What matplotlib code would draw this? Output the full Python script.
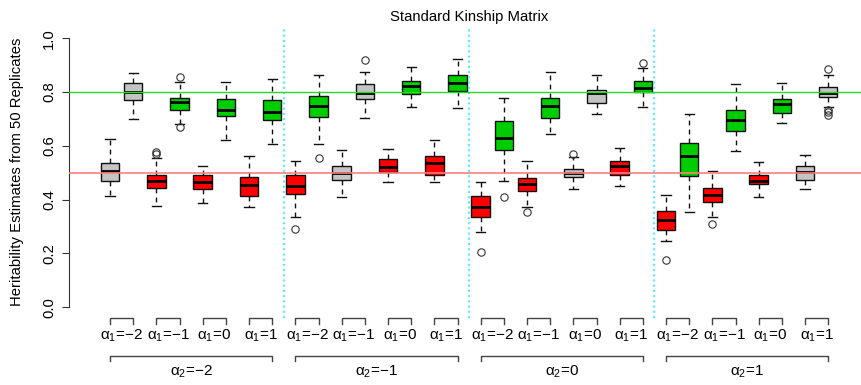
import matplotlib
matplotlib.use("Agg")
from matplotlib import pyplot as plt
from matplotlib.transforms import blended_transform_factory

plt.rcParams["font.family"] = ["Liberation Sans", "DejaVu Sans"]
plt.rcParams["mathtext.fontset"] = "custom"
plt.rcParams["mathtext.rm"] = "Liberation Sans"
plt.rcParams["mathtext.it"] = "Liberation Sans:italic"

alpha2_levels = [-2, -1, 0, 1]
alpha1_levels = [-2, -1, 0, 1]
true_h = [0.5, 0.8]

# one entry per box, ordered by alpha2, then alpha1, then true heritability (0.5, 0.8)
whislo = [0.414, 0.699, 0.378, 0.680, 0.389, 0.622, 0.374, 0.607,
          0.334, 0.607, 0.411, 0.704, 0.466, 0.745, 0.464, 0.742,
          0.280, 0.468, 0.372, 0.644, 0.440, 0.719, 0.449, 0.746,
          0.248, 0.354, 0.334, 0.582, 0.411, 0.684, 0.440, 0.743]
q1 = [0.470, 0.769, 0.443, 0.735, 0.440, 0.710, 0.413, 0.695,
      0.422, 0.706, 0.474, 0.775, 0.504, 0.794, 0.493, 0.804,
      0.334, 0.585, 0.433, 0.705, 0.485, 0.761, 0.491, 0.801,
      0.286, 0.489, 0.393, 0.657, 0.457, 0.723, 0.472, 0.782]
med = [0.507, 0.799, 0.471, 0.763, 0.466, 0.733, 0.456, 0.727,
       0.452, 0.748, 0.500, 0.795, 0.523, 0.823, 0.535, 0.833,
       0.374, 0.631, 0.459, 0.749, 0.500, 0.795, 0.524, 0.815,
       0.326, 0.561, 0.418, 0.697, 0.471, 0.757, 0.501, 0.795]
q3 = [0.535, 0.835, 0.491, 0.778, 0.491, 0.773, 0.484, 0.770,
      0.491, 0.785, 0.524, 0.829, 0.550, 0.840, 0.562, 0.865,
      0.413, 0.692, 0.481, 0.777, 0.515, 0.808, 0.543, 0.842,
      0.359, 0.612, 0.445, 0.733, 0.491, 0.773, 0.524, 0.818]
whishi = [0.627, 0.872, 0.553, 0.837, 0.526, 0.839, 0.562, 0.850,
          0.545, 0.864, 0.586, 0.875, 0.590, 0.892, 0.620, 0.924,
          0.466, 0.777, 0.545, 0.876, 0.557, 0.864, 0.591, 0.889,
          0.419, 0.719, 0.507, 0.831, 0.539, 0.833, 0.565, 0.865]
outliers = [[], [], [0.578, 0.568], [0.856, 0.669], [], [], [], [],
            [0.290], [0.553], [], [0.918], [], [], [], [],
            [0.206], [0.411], [0.354], [], [0.570], [], [], [0.907],
            [0.175], [], [0.309], [], [], [], [], [0.884, 0.733, 0.725, 0.716]]

fig = plt.figure(figsize=(8.62, 3.85), dpi=100)
W, H = 862.0, 385.0
ax = fig.add_axes([68.8 / W, (H - 318) / H, (W - 68.8) / W, 290.5 / H])

stats = []
colors = []
for i in range(len(med)):
    a2 = alpha2_levels[i // 8]
    a1 = alpha1_levels[(i // 2) % 4]
    stats.append(dict(whislo=whislo[i], q1=q1[i], med=med[i], q3=q3[i],
                      whishi=whishi[i], fliers=outliers[i]))
    if a1 == a2:
        colors.append("#c4c4c4")
    elif i % 2 == 0:
        colors.append("#ff0000")
    else:
        colors.append("#00cd00")

positions = list(range(1, len(med) + 1))
bp = ax.bxp(stats, positions=positions, widths=0.8, patch_artist=True,
            showfliers=True, capwidths=0.4,
            boxprops=dict(edgecolor="#111111", linewidth=1.0),
            medianprops=dict(color="black", linewidth=2.0),
            whiskerprops=dict(color="#111111", linewidth=1.0, linestyle=(0, (3.5, 3))),
            capprops=dict(color="#111111", linewidth=1.0),
            flierprops=dict(marker="o", markerfacecolor="none",
                            markeredgecolor="#333333", markersize=5.3,
                            markeredgewidth=0.8))
for patch, c in zip(bp["boxes"], colors):
    patch.set_facecolor(c)

ax.axhline(true_h[1], color="#22dd22", linewidth=1.0, zorder=5)
ax.axhline(true_h[0], color="#ff7f7f", linewidth=1.2, zorder=5)
for xv in [8.5, 16.5, 24.5]:
    ax.axvline(xv, color="#55eeff", linewidth=1.5, linestyle=(0, (1, 1.5)))

ax.set_xlim(-0.78, 33.46)
ax.set_ylim(-0.04, 1.04)
for s in ["top", "right", "bottom"]:
    ax.spines[s].set_visible(False)
ax.spines["left"].set_bounds(0, 1)
ax.spines["left"].set_color("#333333")
ax.set_xticks([])
ax.set_yticks([0.0, 0.2, 0.4, 0.6, 0.8, 1.0])
ax.set_yticklabels(["0.0", "0.2", "0.4", "0.6", "0.8", "1.0"],
                   rotation=90, va="center", fontsize=10.7)
ax.tick_params(axis="y", length=5, width=0.8, color="#333333", pad=4)

# group brackets below the plot
tr = blended_transform_factory(ax.transData, fig.transFigure)
def fy(p):
    return (H - p) / H

bcol = "#444444"
for b, a2 in enumerate(alpha2_levels):
    for g, a1 in enumerate(alpha1_levels):
        x0 = positions[b * 8 + g * 2]
        x1 = positions[b * 8 + g * 2 + 1]
        ax.plot([x0, x0, x1, x1], [fy(324), fy(318), fy(318), fy(324)],
                color=bcol, linewidth=1.0, transform=tr, clip_on=False)
        ax.text((x0 + x1) / 2, fy(336), "α$_1$=\u2212%d" % -a1 if a1 < 0 else "α$_1$=%d" % a1,
                transform=tr, ha="center", va="center", fontsize=11)
    x0 = positions[b * 8]
    x1 = positions[b * 8 + 7]
    ax.plot([x0, x0, x1, x1], [fy(361), fy(356), fy(356), fy(361)],
            color=bcol, linewidth=1.0, transform=tr, clip_on=False)
    ax.text((x0 + x1) / 2, fy(372), "α$_2$=\u2212%d" % -a2 if a2 < 0 else "α$_2$=%d" % a2,
            transform=tr, ha="center", va="center", fontsize=11)

fig.text(469 / W, fy(17), "Standard Kinship Matrix", ha="center", va="center",
         fontsize=10.7)
fig.text(17 / W, fy(172), "Heritability Estimates from 50 Replicates",
         rotation=90, ha="center", va="center", fontsize=10.7)

fig.savefig("out.png", dpi=100)
